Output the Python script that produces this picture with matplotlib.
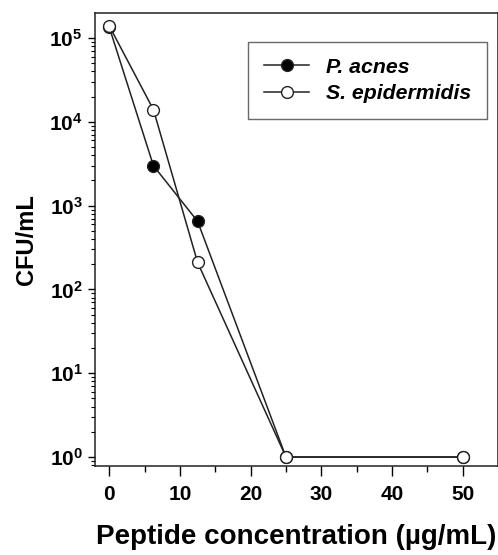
import numpy as np
import matplotlib
matplotlib.use("Agg")
import matplotlib.pyplot as plt
from matplotlib.ticker import LogLocator, FixedLocator, FuncFormatter, NullFormatter

# Dati
conc = [0, 6.25, 12.5, 25, 50]
p_acnes = [1.35e5, 3.0e3, 6.5e2, 1.0, 1.0]
s_epid = [1.4e5, 1.4e4, 2.1e2, 1.0, 1.0]
x_ticks = [0, 10, 20, 30, 40, 50]

plt.rcParams['font.family'] = ['Liberation Sans', 'DejaVu Sans']
plt.rcParams['font.weight'] = 'bold'
plt.rcParams['mathtext.fontset'] = 'custom'
plt.rcParams['mathtext.rm'] = 'Liberation Sans:bold'
plt.rcParams['mathtext.bf'] = 'Liberation Sans:bold'
plt.rcParams['mathtext.it'] = 'Liberation Sans:bold:italic'

fig = plt.figure(figsize=(4.98, 5.55), dpi=100)
ax = fig.add_axes([0.191, 0.1604, 0.809, 0.8162])

ax.plot(conc, p_acnes, '-o', color='#222222', lw=1.1, ms=8.5,
        mfc='black', mec='#222222', mew=1.0, label='P. acnes')
ax.plot(conc, s_epid, '-o', color='#222222', lw=1.1, ms=8.5,
        mfc='white', mec='#222222', mew=1.0, label='S. epidermidis')

ax.set_yscale('log')
ax.set_ylim(10**-0.107, 10**5.30)
ax.set_xlim(-2, 55)

ax.yaxis.set_major_locator(LogLocator(base=10, numticks=10))
ax.yaxis.set_minor_locator(LogLocator(base=10, subs=np.arange(2, 10), numticks=10))
ax.yaxis.set_major_formatter(FuncFormatter(lambda v, p: r'$10^{%d}$' % round(np.log10(v))))
ax.yaxis.set_minor_formatter(NullFormatter())
ax.xaxis.set_major_locator(FixedLocator(x_ticks))
ax.xaxis.set_minor_locator(FixedLocator([5, 15, 25, 35, 45]))

ax.tick_params(axis='y', which='major', direction='out', length=5, width=1, labelsize=15, pad=4)
ax.tick_params(axis='y', which='minor', direction='out', length=3, width=0.8)
ax.tick_params(axis='x', which='major', direction='out', length=7, width=1, labelsize=15, pad=7)
ax.tick_params(axis='x', which='minor', direction='out', length=4, width=1)

for s in ax.spines.values():
    s.set_linewidth(1.1)
    s.set_color('#222222')

ax.set_xlabel('Peptide concentration (µg/mL)', fontsize=20, fontweight='bold', labelpad=14)
ax.set_ylabel('CFU/mL', fontsize=17, fontweight='bold', labelpad=8)

leg = ax.legend(loc='upper right', bbox_to_anchor=(0.973, 0.936), borderaxespad=0,
                prop={'style': 'italic', 'weight': 'bold', 'size': 15.3},
                frameon=True, fancybox=False, edgecolor='#444444',
                handlelength=2.1, borderpad=0.75, labelspacing=0.35)
leg.get_frame().set_linewidth(1.0)

fig.savefig('out.png', dpi=100)
